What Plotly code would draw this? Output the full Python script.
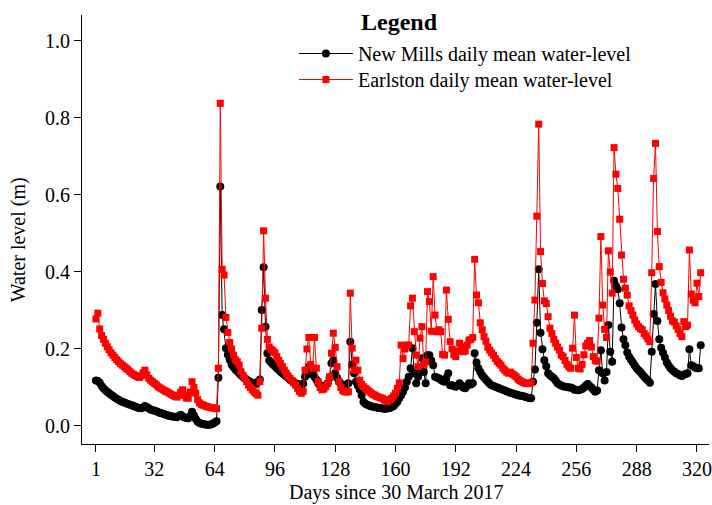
import plotly.graph_objects as go

days = list(range(1, 323))

new_mills = [
    0.118, 0.117, 0.112, 0.104, 0.098, 0.093, 0.089, 0.085, 0.081, 0.078,
    0.074, 0.071, 0.068, 0.065, 0.063, 0.061, 0.059, 0.057, 0.055, 0.054,
    0.052, 0.050, 0.048, 0.047, 0.046, 0.048, 0.052, 0.049, 0.046, 0.043,
    0.041, 0.040, 0.038, 0.036, 0.034, 0.033, 0.031, 0.029, 0.028, 0.026,
    0.025, 0.024, 0.024, 0.023, 0.026, 0.029, 0.025, 0.022, 0.021, 0.020,
    0.026, 0.037, 0.028, 0.018, 0.011, 0.008, 0.006, 0.005, 0.004, 0.003,
    0.003, 0.004, 0.006, 0.009, 0.012, 0.125, 0.622, 0.288, 0.251, 0.202,
    0.185, 0.172, 0.160, 0.153, 0.147, 0.142, 0.137, 0.132, 0.128, 0.124,
    0.120, 0.117, 0.114, 0.112, 0.110, 0.109, 0.115, 0.121, 0.301, 0.412,
    0.258, 0.189, 0.170, 0.165, 0.160, 0.155, 0.150, 0.146, 0.141, 0.137,
    0.133, 0.129, 0.125, 0.120, 0.117, 0.114, 0.111, 0.109, 0.108, 0.106,
    0.110, 0.128, 0.140, 0.154, 0.135, 0.140, 0.128, 0.120, 0.111, 0.106,
    0.102, 0.103, 0.106, 0.111, 0.125, 0.163, 0.171, 0.137, 0.125, 0.115,
    0.110, 0.106, 0.105, 0.108, 0.111, 0.219, 0.160, 0.137, 0.115, 0.105,
    0.095, 0.080, 0.063, 0.058, 0.055, 0.053, 0.051, 0.050, 0.049, 0.048,
    0.047, 0.046, 0.046, 0.045, 0.045, 0.046, 0.047, 0.049, 0.052, 0.058,
    0.063, 0.072, 0.080, 0.089, 0.100, 0.115, 0.128, 0.150, 0.202, 0.137,
    0.111, 0.128, 0.150, 0.176, 0.140, 0.111, 0.184, 0.184, 0.170, 0.158,
    0.128, 0.126, 0.124, 0.120, 0.117, 0.115, 0.125, 0.137, 0.106, 0.106,
    0.104, 0.102, 0.105, 0.111, 0.105, 0.100, 0.098, 0.104, 0.111, 0.108,
    0.111, 0.189, 0.165, 0.150, 0.140, 0.132, 0.126, 0.120, 0.115, 0.110,
    0.106, 0.104, 0.102, 0.100, 0.098, 0.096, 0.094, 0.092, 0.090, 0.088,
    0.086, 0.085, 0.083, 0.082, 0.080, 0.079, 0.078, 0.077, 0.075, 0.074,
    0.073, 0.072, 0.115, 0.147, 0.268, 0.407, 0.242, 0.199, 0.171, 0.155,
    0.137, 0.132, 0.128, 0.124, 0.118, 0.111, 0.108, 0.105, 0.103, 0.102,
    0.101, 0.100, 0.100, 0.098, 0.094, 0.094, 0.093, 0.094, 0.096, 0.100,
    0.105, 0.109, 0.104, 0.100, 0.094, 0.089, 0.092, 0.145, 0.197, 0.137,
    0.118, 0.140, 0.262, 0.193, 0.167, 0.377, 0.364, 0.355, 0.319, 0.256,
    0.225, 0.210, 0.191, 0.180, 0.172, 0.165, 0.157, 0.150, 0.145, 0.140,
    0.134, 0.128, 0.123, 0.118, 0.112, 0.193, 0.291, 0.369, 0.273, 0.225,
    0.203, 0.190, 0.178, 0.165, 0.157, 0.150, 0.145, 0.141, 0.137, 0.135,
    0.132, 0.130, 0.133, 0.135, 0.137, 0.199, 0.158, 0.155, 0.152, 0.150,
    0.150, 0.210,
]

earlston = [
    0.278, 0.293, 0.252, 0.235, 0.225, 0.215, 0.206, 0.198, 0.190, 0.184,
    0.178, 0.172, 0.167, 0.162, 0.158, 0.154, 0.150, 0.146, 0.141, 0.137,
    0.134, 0.131, 0.128, 0.126, 0.130, 0.138, 0.145, 0.133, 0.124, 0.119,
    0.115, 0.111, 0.107, 0.102, 0.099, 0.096, 0.093, 0.090, 0.088, 0.085,
    0.082, 0.079, 0.077, 0.075, 0.080, 0.088, 0.094, 0.080, 0.073, 0.072,
    0.088, 0.115, 0.100, 0.085, 0.068, 0.060, 0.056, 0.054, 0.052, 0.050,
    0.049, 0.048, 0.047, 0.046, 0.045, 0.150, 0.838, 0.407, 0.392, 0.282,
    0.243, 0.217, 0.200, 0.184, 0.172, 0.167, 0.158, 0.141, 0.132, 0.124,
    0.115, 0.106, 0.100, 0.094, 0.088, 0.084, 0.080, 0.115, 0.254, 0.507,
    0.332, 0.225, 0.205, 0.199, 0.195, 0.190, 0.180, 0.171, 0.162, 0.154,
    0.145, 0.137, 0.130, 0.124, 0.118, 0.112, 0.106, 0.098, 0.090, 0.085,
    0.090, 0.145, 0.200, 0.230, 0.160, 0.150, 0.230, 0.150, 0.115, 0.100,
    0.094, 0.096, 0.102, 0.110, 0.128, 0.189, 0.241, 0.204, 0.154, 0.115,
    0.100, 0.092, 0.089, 0.088, 0.089, 0.345, 0.202, 0.145, 0.171, 0.145,
    0.119, 0.108, 0.102, 0.098, 0.094, 0.090, 0.086, 0.082, 0.080, 0.077,
    0.075, 0.073, 0.072, 0.068, 0.065, 0.063, 0.068, 0.072, 0.078, 0.085,
    0.098, 0.112, 0.210, 0.175, 0.200, 0.210, 0.210, 0.312, 0.332, 0.245,
    0.184, 0.154, 0.228, 0.258, 0.160, 0.167, 0.349, 0.323, 0.246, 0.388,
    0.288, 0.245, 0.250, 0.245, 0.186, 0.184, 0.353, 0.277, 0.219, 0.200,
    0.185, 0.180, 0.195, 0.215, 0.205, 0.193, 0.195, 0.210, 0.223, 0.225,
    0.230, 0.433, 0.340, 0.320, 0.268, 0.250, 0.232, 0.220, 0.205, 0.197,
    0.190, 0.184, 0.175, 0.168, 0.163, 0.158, 0.150, 0.145, 0.140, 0.137,
    0.140, 0.135, 0.132, 0.128, 0.122, 0.118, 0.115, 0.113, 0.111, 0.110,
    0.111, 0.112, 0.215, 0.327, 0.545, 0.784, 0.453, 0.370, 0.325, 0.318,
    0.284, 0.254, 0.240, 0.225, 0.215, 0.205, 0.197, 0.184, 0.180, 0.170,
    0.160, 0.154, 0.150, 0.202, 0.288, 0.178, 0.150, 0.148, 0.160, 0.185,
    0.208, 0.215, 0.222, 0.205, 0.180, 0.170, 0.168, 0.280, 0.492, 0.314,
    0.251, 0.230, 0.455, 0.400, 0.345, 0.723, 0.654, 0.617, 0.537, 0.444,
    0.381, 0.358, 0.340, 0.312, 0.300, 0.288, 0.275, 0.265, 0.258, 0.253,
    0.250, 0.240, 0.234, 0.226, 0.219, 0.398, 0.643, 0.734, 0.505, 0.414,
    0.373, 0.346, 0.330, 0.314, 0.300, 0.285, 0.273, 0.270, 0.260, 0.251,
    0.240, 0.232, 0.271, 0.258, 0.262, 0.457, 0.343, 0.327, 0.320, 0.371,
    0.336, 0.398,
]

x_ticks = [1, 32, 64, 96, 128, 160, 192, 224, 256, 288, 320]
y_ticks = [0.0, 0.2, 0.4, 0.6, 0.8, 1.0]

FONT = "Liberation Serif, Times New Roman, serif"
FS = 20

fig = go.Figure()
fig.add_trace(go.Scatter(
    x=days, y=new_mills, mode="lines+markers",
    name="New Mills daily mean water-level", legend="legend",
    line=dict(color="black", width=1),
    marker=dict(symbol="circle", size=8, color="black"),
))
fig.add_trace(go.Scatter(
    x=days, y=earlston, mode="lines+markers",
    name="Earlston daily mean water-level", legend="legend2",
    line=dict(color="#ff0000", width=1),
    marker=dict(symbol="square", size=7, color="#ff0000"),
))

legend_common = dict(xanchor="left", yanchor="top", bgcolor="rgba(0,0,0,0)",
                     itemwidth=54, font=dict(family=FONT, size=FS, color="black"))

fig.update_layout(
    width=712, height=505,
    margin=dict(l=82, r=0, t=15, b=61),
    paper_bgcolor="white", plot_bgcolor="white",
    font=dict(family=FONT, size=FS, color="black"),
    showlegend=True,
    legend=dict(x=0.338, y=0.9557, **legend_common),
    legend2=dict(x=0.338, y=0.8951, **legend_common),
    xaxis=dict(
        range=[-6.4, 326.4], tickmode="array", tickvals=x_ticks,
        ticktext=[str(v) for v in x_ticks], ticklabeloverflow="allow",
        showgrid=False, zeroline=False, showline=True, linecolor="black",
        linewidth=1, ticks="outside", ticklen=7, tickcolor="black",
        tickfont=dict(family=FONT, size=FS),
    ),
    yaxis=dict(
        range=[-0.0468, 1.0675], tickmode="array", tickvals=y_ticks,
        ticktext=["%.1f" % v for v in y_ticks],
        showgrid=False, zeroline=False, showline=True, linecolor="black",
        linewidth=1, ticks="outside", ticklen=7, tickcolor="black",
        tickfont=dict(family=FONT, size=FS),
    ),
    annotations=[
        dict(text="<b>Legend</b>", xref="paper", yref="paper",
             x=0.441, y=0.9837, xanchor="left", yanchor="middle",
             showarrow=False, font=dict(family=FONT, size=24)),
        dict(text="Days since 30 March 2017", xref="paper", yref="paper",
             x=0.5, y=-0.113, xanchor="center", yanchor="middle",
             showarrow=False, font=dict(family=FONT, size=FS)),
        dict(text="Water level (m)", xref="paper", yref="paper",
             x=-0.1016, y=0.4755, xanchor="center", yanchor="middle",
             textangle=-90, showarrow=False, font=dict(family=FONT, size=FS)),
    ],
)

fig.write_html("out.html")
